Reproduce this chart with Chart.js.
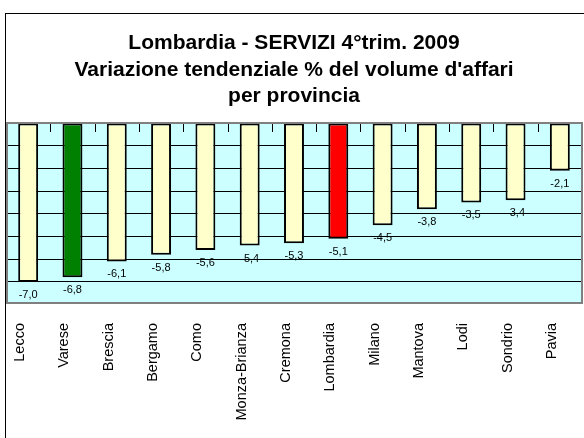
<!DOCTYPE html>
<html>
<head>
<meta charset="utf-8">
<script src="https://cdn.jsdelivr.net/npm/chart.js@4/dist/chart.umd.min.js"></script>
<style>
  html, body { margin: 0; padding: 0; background: #ffffff; }
  canvas { display: block; }
</style>
</head>
<body>
<canvas id="chart" width="584" height="438"></canvas>
<script>
// Data
const provinces = ['Lecco', 'Varese', 'Brescia', 'Bergamo', 'Como', 'Monza-Brianza', 'Cremona',
    'Lombardia', 'Milano', 'Mantova', 'Lodi', 'Sondrio', 'Pavia'];
const variation = [-7.0, -6.8, -6.1, -5.8, -5.6, -5.4, -5.3, -5.1, -4.5, -3.8, -3.5, -3.4, -2.1];
const titleLines = ['Lombardia - SERVIZI 4°trim. 2009', "Variazione tendenziale % del volume d'affari", 'per provincia'];
const yMin = -7.93;
const yMax = 0;

const FONT = '"Liberation Sans", Arial, sans-serif';

// Colour per bar: region total red, Varese green, rest pale yellow
const barColor = (name) => {
    if (name === 'Lombardia') return '#ff0000';
    if (name === 'Varese') return '#008000';
    return '#ffffcc';
};

// Background, outer frame, plot fill
const backdrop = {
    id: 'backdrop',
    beforeDraw(chart) {
        const { ctx, chartArea: a } = chart;
        ctx.save();
        ctx.fillStyle = '#ffffff';
        ctx.fillRect(0, 0, chart.width, chart.height);
        ctx.strokeStyle = '#000000';
        ctx.lineWidth = 1;
        ctx.strokeRect(5.5, 13.5, chart.width + 10, chart.height + 10);
        ctx.fillStyle = '#ccffff';
        ctx.fillRect(a.left, a.top, a.right - a.left, a.bottom - a.top);
        ctx.restore();
    }
};

// Plot border, inner tick marks on the category axis, value labels
const overlay = {
    id: 'overlay',
    afterDatasetsDraw(chart) {
        const { ctx, chartArea: a } = chart;
        const xs = chart.scales.x;
        ctx.save();

        // tick marks between categories, hanging from the zero line
        ctx.strokeStyle = '#000000';
        ctx.lineWidth = 1;
        for (let i = 1; i < provinces.length; i++) {
            const px = Math.round((xs.getPixelForValue(i - 1) + xs.getPixelForValue(i)) / 2) + 0.5;
            ctx.beginPath();
            ctx.moveTo(px, a.top);
            ctx.lineTo(px, a.top + 9);
            ctx.stroke();
        }

        // plot border
        ctx.strokeStyle = '#808080';
        ctx.lineWidth = 2;
        ctx.strokeRect(a.left + 1, a.top, a.right - a.left - 1, a.bottom - a.top);

        // value labels under each bar
        ctx.fillStyle = '#000000';
        ctx.font = '11px ' + FONT;
        ctx.textAlign = 'center';
        ctx.textBaseline = 'middle';
        chart.getDatasetMeta(0).data.forEach((bar, i) => {
            const y = Math.min(bar.y + 13, a.bottom - 8);
            ctx.fillText(variation[i].toFixed(1).replace('.', ','), bar.x, y);
        });
        ctx.restore();
    }
};

new Chart(document.getElementById('chart'), {
    type: 'bar',
    data: {
        labels: provinces,
        datasets: [{
            data: variation,
            backgroundColor: provinces.map(barColor),
            borderColor: '#000000',
            borderWidth: 2,
            borderSkipped: false,
            barPercentage: 0.45,
            categoryPercentage: 1.0
        }]
    },
    options: {
        responsive: false,
        animation: false,
        devicePixelRatio: 1,
        layout: { autoPadding: false, padding: { left: 6, right: 2, top: 0, bottom: 0 } },
        plugins: {
            legend: { display: false },
            tooltip: { enabled: false },
            title: {
                display: true,
                text: titleLines,
                color: '#000000',
                font: { family: FONT, size: 21, weight: 'bold', lineHeight: 1.27 },
                padding: { top: 30, bottom: 13 }
            }
        },
        scales: {
            x: {
                grid: { display: false, drawTicks: false },
                border: { display: false },
                ticks: {
                    color: '#000000',
                    font: { family: FONT, size: 14.5 },
                    minRotation: 90,
                    maxRotation: 90,
                    autoSkip: false,
                    padding: 20,
                    labelOffset: -8
                },
                afterFit: (s) => {
                    s.height = 135;
                    s.paddingLeft = 0;
                    s.paddingRight = 0;
                }
            },
            y: {
                min: yMin,
                max: yMax,
                grid: { color: '#000000', lineWidth: 1, drawTicks: false },
                border: { display: false },
                ticks: { display: false, stepSize: 1 },
                afterFit: (s) => {
                    s.width = 0;
                    s.paddingTop = 0;
                    s.paddingBottom = 0;
                }
            }
        }
    },
    plugins: [backdrop, overlay]
});
</script>
</body>
</html>
